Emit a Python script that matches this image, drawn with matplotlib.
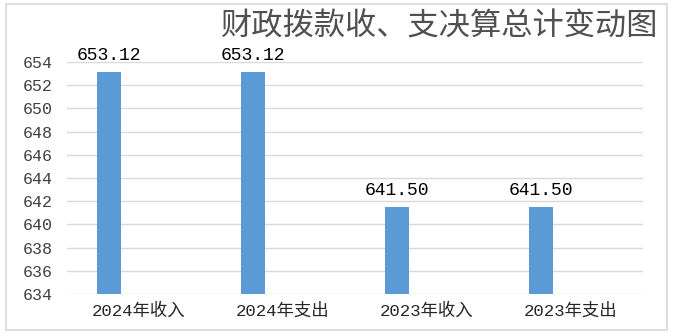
import matplotlib
matplotlib.use("Agg")
import matplotlib.pyplot as plt
from matplotlib.patches import Rectangle
import numpy as np

categories = ["2024年收入", "2024年支出", "2023年收入", "2023年支出"]
values = [653.12, 653.12, 641.50, 641.50]
value_labels = ["653.12", "653.12", "641.50", "641.50"]
yticks = list(range(634, 655, 2))
title = "财政拨款收、支决算总计变动图"

plt.rcParams['font.family'] = ['Liberation Mono', 'Noto Sans CJK SC', 'DejaVu Sans']

fig = plt.figure(figsize=(6.75, 3.36), dpi=100)
fig.patch.set_facecolor('white')
fig.patches.append(Rectangle((6/675, 6/336), 661/675, 326/336, transform=fig.transFigure,
                             fill=False, edgecolor='#d9d9d9', linewidth=1.2))

ax = fig.add_axes([67/675, 1-294/336, 576/675, 232/336])
x = np.arange(len(categories))
offset = -0.208
width = 0.165
ax.bar(x + offset, [v - 634 for v in values], bottom=634, width=width, color='#5b9bd5', zorder=3)
ax.set_xlim(-0.5, len(categories) - 0.5)
ax.set_ylim(634, 654)
ax.set_yticks(yticks)
ax.set_yticklabels([str(t) for t in yticks], fontsize=12, color='#404040')
ax.set_xticks(x)
ax.set_xticklabels(categories, fontsize=12.5, color='#262626')
ax.tick_params(axis='both', length=0)
ax.tick_params(axis='y', pad=10)
ax.tick_params(axis='x', pad=6)
ax.grid(axis='y', color='#d9d9d9', linewidth=1, zorder=0)
for s in ax.spines.values():
    s.set_visible(False)

for xi, v, lab in zip(x, values, value_labels):
    ax.annotate(lab, (xi + offset, v), xytext=(0, 12), textcoords='offset points',
                ha='center', va='center', fontsize=13, color='#000000', zorder=5)

fig.text(440/675, 1-26/336, title, ha='center', va='center', fontsize=22.5,
         color='#505050', family=['Noto Sans CJK SC'], fontweight='light')

fig.savefig('out.png', dpi=100, facecolor='white')
